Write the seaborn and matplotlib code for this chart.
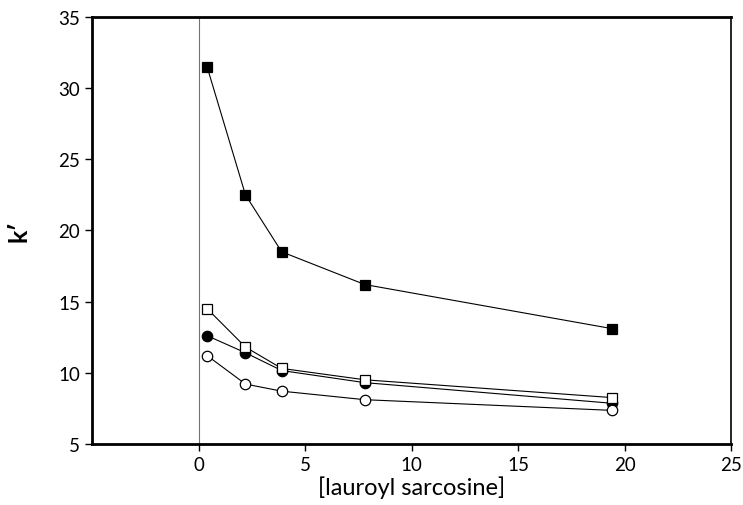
import matplotlib as mpl

mpl.use("Agg")

import matplotlib.pyplot as plt
import pandas as pd
import seaborn as sns

sns.set_theme(style="ticks")
plt.rcParams["font.family"] = ["Lato", "DejaVu Sans"]

# [lauroyl sarcosine] concentrations
conc = [0.4, 2.2, 3.9, 7.8, 19.4]

# k' values per series
k_filled_square = [31.5, 22.5, 18.5, 16.2, 13.1]
k_open_square = [14.5, 11.8, 10.3, 9.5, 8.25]
k_filled_circle = [12.6, 11.4, 10.15, 9.3, 7.85]
k_open_circle = [11.2, 9.2, 8.7, 8.1, 7.35]

series = [
    ("filled square", k_filled_square, "s", "black"),
    ("filled circle", k_filled_circle, "o", "black"),
    ("open circle", k_open_circle, "o", "white"),
    ("open square", k_open_square, "s", "white"),
]

fig = plt.figure(figsize=(7.43, 5.06), dpi=100)
ax = fig.add_axes([0.124, 0.121, 0.86, 0.843])

ax.axvline(0, color="0.45", linewidth=0.8, zorder=1)

for name, vals, marker, face in series:
    df = pd.DataFrame({"x": conc, "k": vals})
    sns.lineplot(
        data=df,
        x="x",
        y="k",
        marker=marker,
        markersize=7.5,
        markerfacecolor=face,
        markeredgecolor="black",
        markeredgewidth=0.9,
        color="black",
        linewidth=0.8,
        ax=ax,
        zorder=3,
    )

ax.set_xlim(-5, 25)
ax.set_ylim(5, 35)
ax.set_xticks([0, 5, 10, 15, 20, 25])
ax.set_yticks([5, 10, 15, 20, 25, 30, 35])
ax.tick_params(axis="both", direction="out", length=5, width=1, labelsize=13.5,
               colors="black", labelcolor="black")

for side in ["left", "bottom", "top"]:
    ax.spines[side].set_linewidth(2)
    ax.spines[side].set_color("black")
ax.spines["right"].set_visible(True)
ax.spines["right"].set_linewidth(1.2)
ax.spines["right"].set_color("black")

ax.set_xlabel("[lauroyl sarcosine]", fontsize=17, labelpad=2, color="black")
ax.set_ylabel("k\u2032", fontsize=18, fontweight="bold", labelpad=20, color="black")

fig.savefig("out.png", dpi=100)
